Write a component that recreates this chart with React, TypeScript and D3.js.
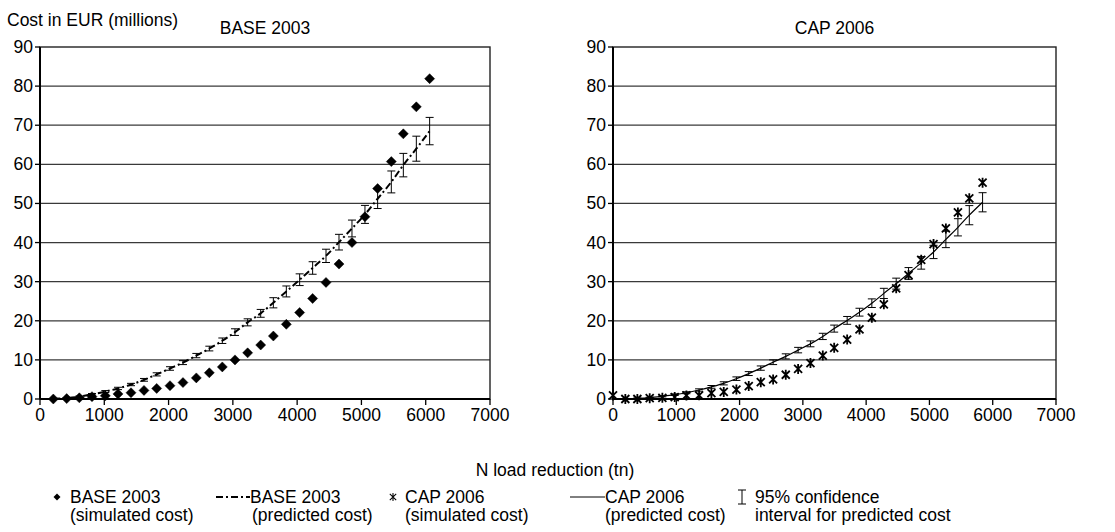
import React from 'react';
import * as d3 from 'd3';

// BASE 2003 scenario
const baseX = [207, 415, 612, 809, 1016, 1213, 1416, 1618, 1815, 2022, 2224, 2432, 2634, 2836, 3033, 3230, 3433, 3630, 3832, 4039, 4241, 4449, 4651, 4853, 5055, 5252, 5465, 5652, 5854, 6061];
const baseSim = [0, 0.1, 0.3, 0.6, 0.8, 1.3, 1.6, 2.2, 2.7, 3.4, 4.2, 5.4, 6.7, 8.2, 10.0, 11.8, 13.8, 16.1, 19.1, 22.1, 25.7, 29.8, 34.5, 40.0, 46.6, 53.8, 60.7, 67.8, 74.7, 81.9];
const basePred = [0.05, 0.25, 0.6, 1.2, 1.9, 2.7, 3.7, 4.9, 6.3, 7.8, 9.3, 11.1, 12.9, 14.9, 17.1, 19.6, 21.9, 24.6, 27.5, 30.5, 33.5, 36.6, 40.1, 43.6, 47.2, 51.2, 55.5, 59.8, 64.0, 68.5];
const baseCi = [0.05, 0.1, 0.15, 0.2, 0.25, 0.3, 0.3, 0.35, 0.4, 0.45, 0.5, 0.55, 0.6, 0.7, 0.85, 0.9, 1.0, 1.3, 1.4, 1.5, 1.6, 1.7, 2.0, 2.15, 2.3, 2.5, 2.8, 3.0, 3.2, 3.5];

// CAP 2006 scenario
const capX = [0, 195, 385, 580, 780, 975, 1160, 1360, 1555, 1750, 1950, 2145, 2335, 2530, 2730, 2925, 3120, 3315, 3495, 3700, 3895, 4090, 4280, 4475, 4670, 4870, 5065, 5260, 5450, 5630, 5840];
const capSim = [0.9, 0, 0, 0.2, 0.3, 0.5, 0.9, 0.95, 1.5, 1.8, 2.4, 3.3, 4.3, 5.0, 6.2, 7.7, 9.2, 11.1, 13.1, 15.2, 17.8, 20.8, 24.2, 28.3, 31.7, 35.6, 39.6, 43.6, 47.7, 51.3, 55.3];
const capPred = [0, 0.05, 0.15, 0.35, 0.7, 1.1, 1.6, 2.3, 3.1, 4.0, 5.2, 6.5, 7.9, 9.4, 10.9, 12.5, 14.1, 16.0, 18.0, 20.1, 22.2, 24.5, 27.0, 29.5, 32.1, 34.8, 37.6, 40.8, 43.9, 47.0, 50.3];
const capCi = [0, 0.05, 0.1, 0.1, 0.15, 0.2, 0.25, 0.3, 0.35, 0.4, 0.45, 0.5, 0.55, 0.6, 0.65, 0.7, 0.75, 0.8, 0.9, 1.0, 1.0, 1.1, 1.3, 1.4, 1.5, 1.6, 1.7, 2.1, 2.2, 2.45, 2.45];

const xTicks = [0, 1000, 2000, 3000, 4000, 5000, 6000, 7000];
const yTicks = [0, 10, 20, 30, 40, 50, 60, 70, 80, 90];

const FONT = 'Liberation Sans, Arial, sans-serif';
const FS = 17.5;

const diamond = 'M0,-5L5,0L0,5L-5,0Z';
const star = 'M-4,-4L4,4M-4,4L4,-4M0,-5L0,5';

type PanelProps = {
  title: string;
  x0: number;
  x1: number;
  xs: number[];
  sim: number[];
  pred: number[];
  ci: number[];
  kind: 'base' | 'cap';
};

const y = d3.scaleLinear().domain([0, 90]).range([399, 47]);

const Panel = ({ title, x0, x1, xs, sim, pred, ci, kind }: PanelProps) => {
  const x = d3.scaleLinear().domain([0, 7000]).range([x0, x1]);
  const line = d3.line<number>()
    .x((d, i) => x(xs[i]))
    .y((d) => y(d))
    .curve(d3.curveMonotoneX);

  return (
    <g>
      <text x={(x0 + x1) / 2} y={34} textAnchor="middle" fontSize={FS}>{title}</text>
      {yTicks.slice(1, -1).map((t) => (
        <line key={t} x1={x0} x2={x1} y1={y(t)} y2={y(t)} stroke="#3a3a3a" strokeWidth={1.3} />
      ))}
      <rect x={x0} y={y(90)} width={x1 - x0} height={y(0) - y(90)} fill="none" stroke="#222" strokeWidth={1.4} />
      <line x1={x0} x2={x0} y1={y(90)} y2={y(0)} stroke="#000" strokeWidth={2} />
      <line x1={x0} x2={x1} y1={y(0)} y2={y(0)} stroke="#000" strokeWidth={2} />
      {yTicks.map((t) => (
        <g key={t}>
          <line x1={x0 - 5} x2={x0} y1={y(t)} y2={y(t)} stroke="#000" strokeWidth={1.3} />
          <text x={x0 - 7} y={y(t) + 6} textAnchor="end" fontSize={FS}>{t}</text>
        </g>
      ))}
      {xTicks.map((t) => (
        <g key={t}>
          <line x1={x(t)} x2={x(t)} y1={y(0)} y2={y(0) + 6} stroke="#000" strokeWidth={1.3} />
          <text x={x(t)} y={y(0) + 22} textAnchor="middle" fontSize={FS}>{t}</text>
        </g>
      ))}
      {/* confidence intervals */}
      {pred.map((p, i) => (
        ci[i] > 0 ? (
          <g key={'ci' + i} stroke="#000" strokeWidth={1}>
            <line x1={x(xs[i])} x2={x(xs[i])} y1={y(p - ci[i])} y2={y(p + ci[i])} />
            <line x1={x(xs[i]) - 4} x2={x(xs[i]) + 4} y1={y(p - ci[i])} y2={y(p - ci[i])} />
            <line x1={x(xs[i]) - 4} x2={x(xs[i]) + 4} y1={y(p + ci[i])} y2={y(p + ci[i])} />
          </g>
        ) : null
      ))}
      <path
        d={line(pred) || ''}
        fill="none"
        stroke="#000"
        strokeWidth={kind === 'base' ? 2 : 1.2}
        strokeDasharray={kind === 'base' ? '7,3,2,3' : undefined}
      />
      {sim.map((s, i) => (
        <path
          key={'s' + i}
          d={kind === 'base' ? diamond : star}
          transform={`translate(${x(xs[i])},${y(s)})`}
          fill={kind === 'base' ? '#000' : 'none'}
          stroke="#000"
          strokeWidth={kind === 'base' ? 0.5 : 1.8}
        />
      ))}
    </g>
  );
};

const App = () => {
  return (
    <svg width={1115} height={532} style={{ position: 'absolute', left: 0, top: 0, background: '#fff' }} fontFamily={FONT} fill="#000">
      <text x={7} y={26} fontSize={FS}>Cost in EUR (millions)</text>
      <Panel title="BASE 2003" x0={40} x1={490} xs={baseX} sim={baseSim} pred={basePred} ci={baseCi} kind="base" />
      <Panel title="CAP 2006" x0={613} x1={1056} xs={capX} sim={capSim} pred={capPred} ci={capCi} kind="cap" />
      <text x={555} y={476} textAnchor="middle" fontSize={FS}>N load reduction (tn)</text>

      {/* legend */}
      <g fontSize={FS}>
        <path d="M0,-3.5L3.5,0L0,3.5L-3.5,0Z" transform="translate(57,497)" fill="#000" />
        <text x={70} y={503}>BASE 2003</text>
        <text x={70} y={521}>(simulated cost)</text>

        <line x1={216} x2={250} y1={497} y2={497} stroke="#000" strokeWidth={2} strokeDasharray="7,3,2,3" />
        <text x={250} y={503}>BASE 2003</text>
        <text x={252} y={521}>(predicted cost)</text>

        <path d={star} transform="translate(393,497) scale(0.8)" fill="none" stroke="#000" strokeWidth={1.3} />
        <text x={405} y={503}>CAP 2006</text>
        <text x={405} y={521}>(simulated cost)</text>

        <line x1={570} x2={605} y1={497} y2={497} stroke="#000" strokeWidth={1} />
        <text x={605} y={503}>CAP 2006</text>
        <text x={605} y={521}>(predicted cost)</text>

        <g stroke="#000" strokeWidth={1}>
          <line x1={742} x2={742} y1={490} y2={504} />
          <line x1={738} x2={746} y1={490} y2={490} />
          <line x1={738} x2={746} y1={504} y2={504} />
        </g>
        <text x={755} y={503}>95% confidence</text>
        <text x={755} y={521}>interval for predicted cost</text>
      </g>
    </svg>
  );
};

export default App;
